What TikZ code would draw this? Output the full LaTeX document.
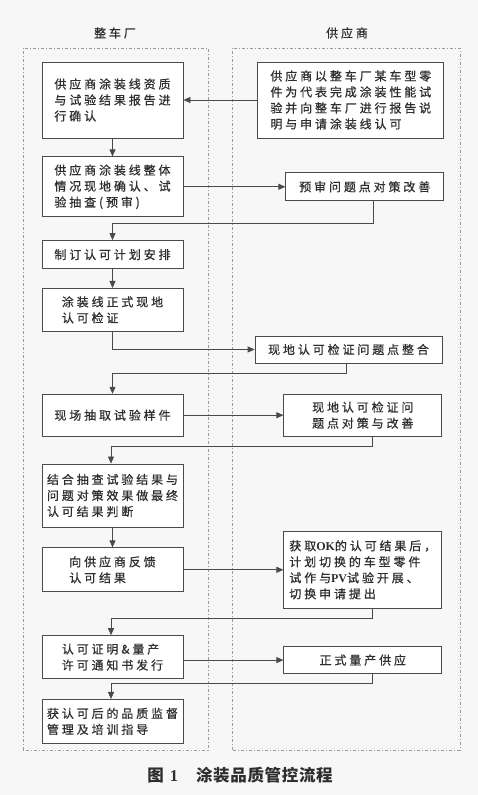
\documentclass[tikz,border=0pt]{standalone}
\usepackage{fontspec}
\usepackage{xcolor}
\usepackage{tikz}
\usetikzlibrary{positioning,arrows.meta,calc}
\newfontfamily\cjk[LetterSpace=24,FakeBold=0.6]{Noto Sans CJK SC}
\newfontfamily\capfont[LetterSpace=4]{Noto Sans CJK SC}
\newfontfamily\lat{Liberation Serif}
\definecolor{qcBack}{HTML}{F7F7F7}
\definecolor{qcLine}{HTML}{4A4A4A}
\definecolor{qcText}{HTML}{2E2E2E}
\definecolor{qcFrame}{HTML}{9A9A9A}
\tikzset{
  qc-box/.style={
    draw=qcLine, line width=0.8pt, fill=white, text=qcText,
    font=\cjk\fontsize{12}{16}\selectfont, align=left,
    inner sep=0pt, minimum width=141pt
  },
  qc-right/.style={qc-box, minimum width=158pt},
  qc-flow/.style={-{Triangle[length=7pt,width=6pt]}, line width=0.8pt, draw=qcLine},
  qc-frame/.style={draw=qcFrame, line width=0.8pt, dash pattern=on 3pt off 2pt on 1pt off 2pt},
  qc-title/.style={font=\cjk\fontsize{12}{14}\selectfont, text=qcText}
}
\begin{document}
\begin{tikzpicture}[x=1pt, y=1pt]
\fill[qcBack] (0,0) rectangle (478,795);
\useasboundingbox (0,0) rectangle (478,795);

% Lanes
\draw[qc-frame] (23,45) rectangle (208,747);
\draw[qc-frame] (232,45) rectangle (460,747);
\node[qc-title] (tOem) at (115,762) {整车厂};
\node[qc-title] (tSup) at (347,762) {供应商};

% Zhengchechang
\node[qc-box, minimum height=76pt] (conf) at (112.5,695)
  {供应商涂装线资质\\与试验结果报告进\\行确认};
\node[qc-box, minimum height=60pt, below=18pt of conf] (pre)
  {供应商涂装线整体\\情况现地确认、试\\验抽查(预审)};
\node[qc-box, minimum height=28pt, below=23pt of pre] (plan)
  {制订认可计划安排};
\node[qc-box, minimum height=43pt, below=19pt of plan] (site)
  {涂装线正式现地\\认可检证};
\node[qc-box, minimum height=42pt, below=62pt of site] (sample)
  {现场抽取试验样件};
\node[qc-box, minimum height=63pt, below=27pt of sample] (judge)
  {结合抽查试验结果与\\问题对策效果做最终\\认可结果判断};
\node[qc-box, minimum height=44pt, below=20pt of judge] (feed)
  {向供应商反馈\\认可结果};
\node[qc-box, minimum height=43pt, below=43pt of feed] (cert)
  {认可证明\&量产\\许可通知书发行};
\node[qc-box, minimum height=44pt, below=20pt of cert] (audit)
  {获认可后的品质监督\\管理及培训指导};

% Gongyingshang
\node[qc-right, minimum width=186pt, minimum height=76pt, right=74pt of conf] (apply)
  {供应商以整车厂某车型零\\件为代表完成涂装性能试\\验并向整车厂进行报告说\\明与申请涂装线认可};
\node[qc-right, minimum height=28pt, right=102pt of pre] (preFix)
  {预审问题点对策改善};
\node[qc-right, minimum width=187pt, minimum height=27pt] (siteSum) at (348.5,445.5)
  {现地认可检证问题点整合};
\node[qc-right, minimum height=42pt, right=100pt of sample] (siteFix)
  {现地认可检证问\\题点对策与改善};
\node[qc-right, minimum height=77pt, right=100pt of feed] (switch)
  {获取{\lat\bfseries OK}的认可结果后，\\计划切换的车型零件\\试作与{\lat\bfseries PV}试验开展、\\切换申请提出};
\node[qc-right, minimum height=27pt, right=100pt of cert, yshift=-3pt] (mass)
  {正式量产供应};

\node[font=\capfont\bfseries\fontsize{16.5}{18}\selectfont, text=qcText] (cap) at (240,20)
  {图\hspace{6pt}{\lat\bfseries 1}\hspace{18pt}涂装品质管控流程};

\draw[qc-flow] (apply.west) -- (apply.west -| conf.east);
\draw[qc-flow] (conf) -- (pre);
\draw[qc-flow] (pre.east) -- (pre.east -| preFix.west);
\draw[qc-flow] ([xshift=9pt]preFix.south) -- ++(0,-22) -| (plan.north);
\draw[qc-flow] (plan) -- (site);
\draw[qc-flow] (site.south) |- (siteSum.west);
\draw[qc-flow] ([xshift=-2.5pt]siteSum.south) -- ++(0,-10) -| (sample.north);
\draw[qc-flow] (sample.east) -- (sample.east -| siteFix.west);
\draw[qc-flow] ([xshift=10pt]siteFix.south) -- ++(0,-10) -| ([xshift=-1.5pt]judge.north);
\draw[qc-flow] (judge) -- (feed);
\draw[qc-flow] (feed.east) -- (feed.east -| switch.west);
\draw[qc-flow] ([xshift=10pt]switch.south) -- ++(0,-10) -| ([xshift=-1.5pt]cert.north);
\draw[qc-flow] (mass.west -| cert.east) -- (mass.west);
\draw[qc-flow] ([xshift=10pt]mass.south) -- ++(0,-9) -| ([xshift=-1.5pt]audit.north);
\end{tikzpicture}
\end{document}
